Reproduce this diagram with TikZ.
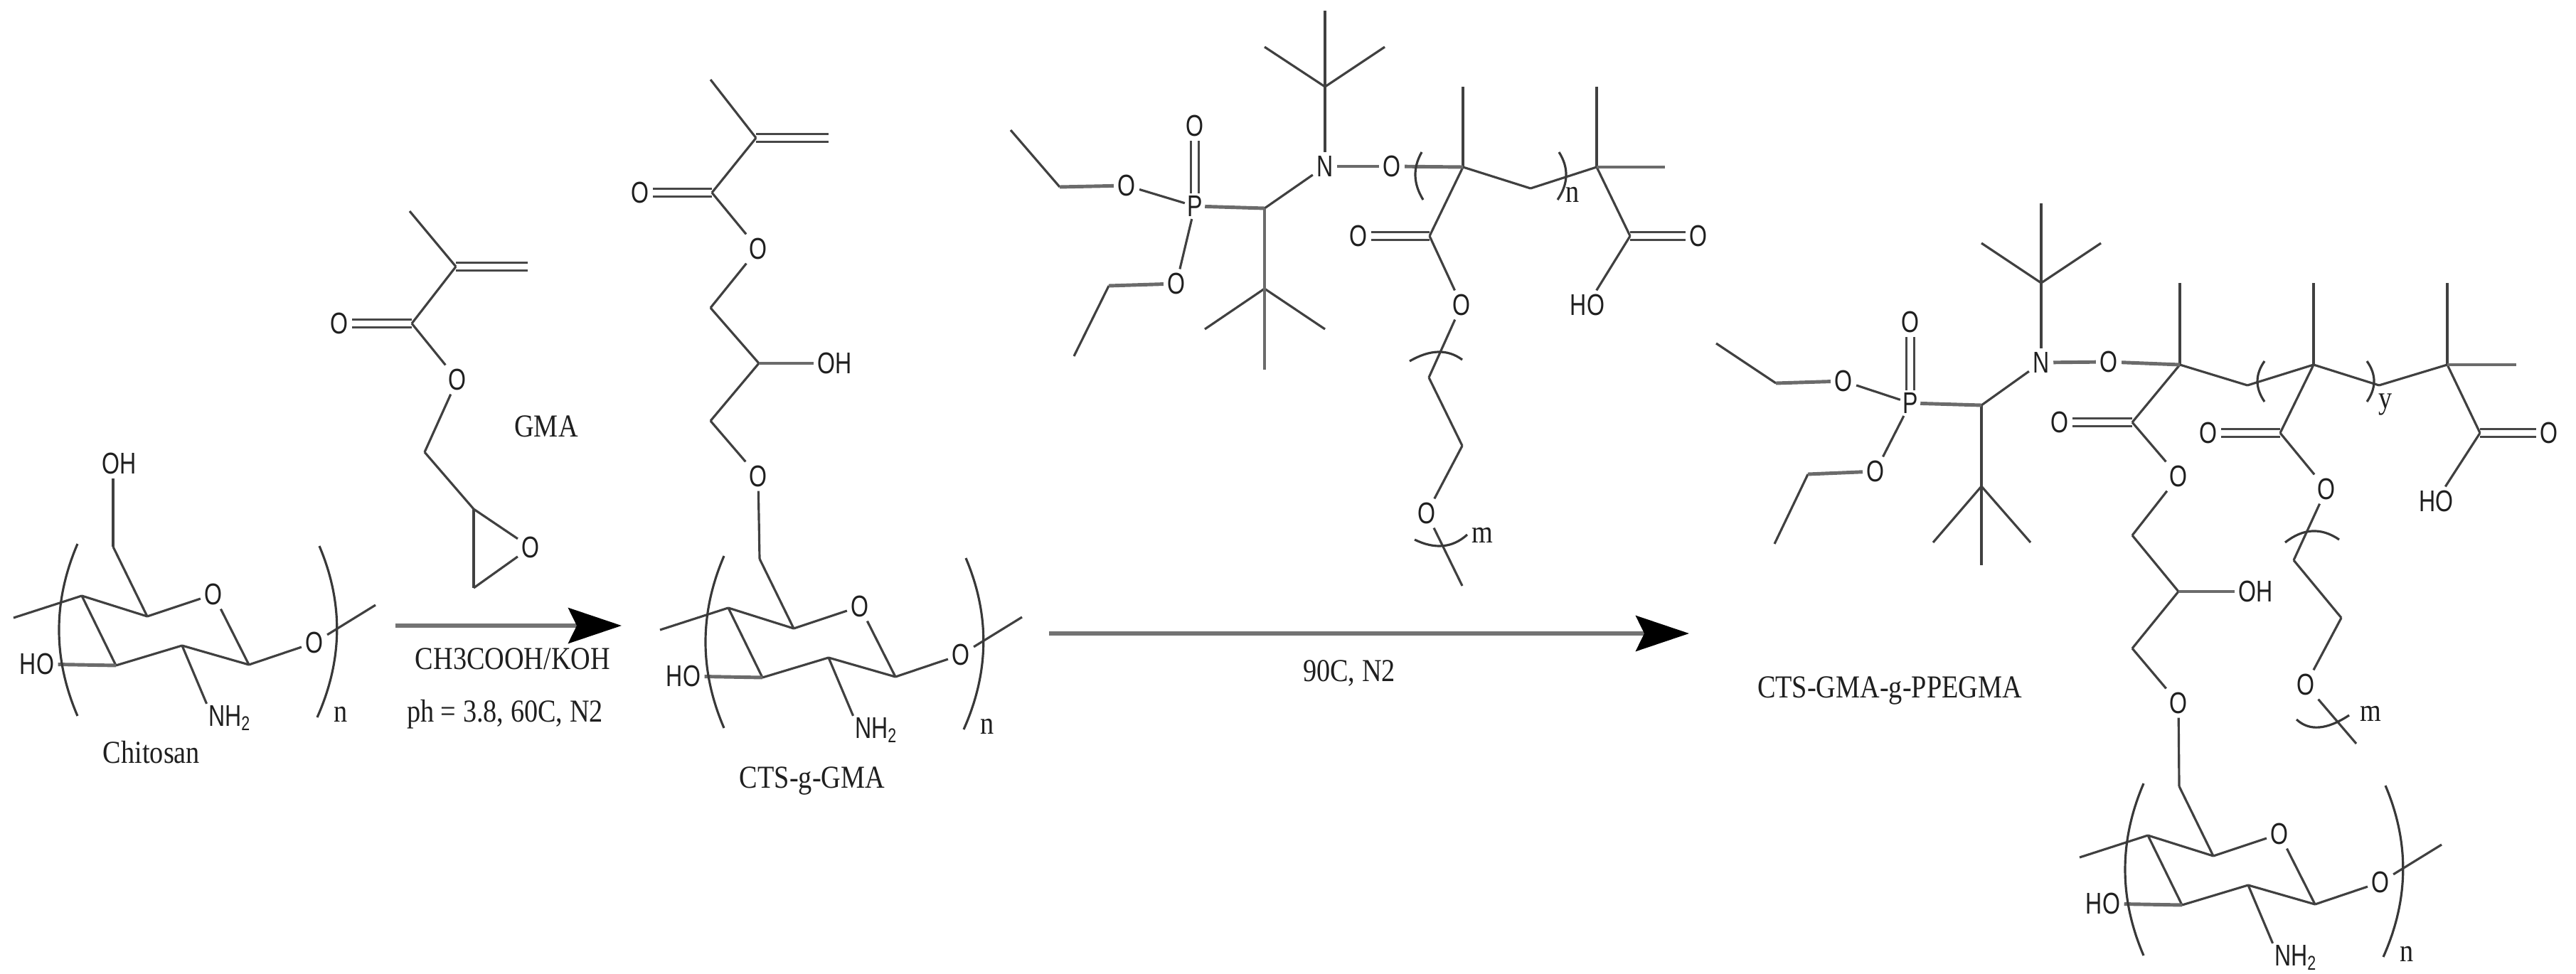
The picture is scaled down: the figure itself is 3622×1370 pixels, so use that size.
\documentclass[tikz,border=0pt]{standalone}
\usepackage{fontspec}
\usetikzlibrary{arrows.meta,calc}
\newfontfamily\atomfam[FakeStretch=0.76]{Liberation Sans}
\newfontfamily\serifam[FakeStretch=0.85]{Liberation Serif}
\tikzset{
  atom/.style={font=\atomfam\fontsize{12}{14}\selectfont,inner sep=1.4pt,text=black!88},
  lab/.style={font=\serifam\fontsize{12.8}{14}\selectfont,inner sep=0pt,text=black!88},
  bond/.style={line width=0.9pt,draw=black!75},
  hbond/.style={line width=1.4pt,draw=black!58},
  dbl/.style={line width=0.95pt,draw=black!72,double=white,double distance=2.2pt},
  brk/.style={line width=0.9pt,draw=black!78},
  rarrow/.style={line width=0.055cm,draw=black!55,-{Stealth[length=0.75cm,width=0.5cm,inset=0.12cm,color=black]}}
}
% parenthesis: quadratic curve from #1 to #3 with control point #2
\newcommand\brkc[3]{\draw[brk] (#1) .. controls ($(#1)!0.667!(#2)$) and ($(#3)!0.667!(#2)$) .. (#3);}
% one chitosan repeat unit; #1 = name prefix, (#2,#3) = shift
\newcommand\chitoUnit[3]{%
\begin{scope}[shift={(#2,#3)}]
  \coordinate (#1tail) at (19,869);
  \coordinate (#1a) at (115,838);
  \coordinate (#1b) at (207,867);
  \node[atom] (#1Or) at (300,836) {O};
  \coordinate (#1c) at (350,935);
  \coordinate (#1d) at (256,908);
  \coordinate (#1e) at (163,936);
  \node[atom] (#1HO) at (52,934) {HO};
  \coordinate (#1ch) at (159,769);
  \node[atom,inner sep=0.5pt] (#1NH) at (323,1010) {NH\textsubscript{2}};
  \node[atom] (#1Ol) at (442,904) {O};
  \coordinate (#1end) at (528,851);
  \foreach \p/\q in {#1tail/#1a,#1a/#1b,#1b/#1Or,#1Or/#1c,#1c/#1d,#1d/#1e,#1e/#1a,#1ch/#1b,#1c/#1Ol,#1Ol/#1end}
    \draw[bond] (\p) -- (\q);
  \draw[bond] (#1d) -- (#1NH.north west);
  \draw[hbond] (#1e) -- (#1HO);
  \brkc{109,765}{57,886}{109,1007}
  \brkc{449,768}{500,888}{446,1009}
  \node[lab] (#1n) at (479,1005) {n};
\end{scope}}
\begin{document}
\begin{tikzpicture}[x=0.01cm,y=-0.01cm]
\useasboundingbox (0,0) rectangle (3622,1370);
\fill[white] (0,0) rectangle (3622,1370);

% ---------- Chitosan
\chitoUnit{a}{0}{0}
\node[atom] (aOH) at (168,652) {OH};
\draw[bond] (ach) -- (aOH.south -| ach);
\node[lab] (lchit) at (213,1058) {Chitosan};

% ---------- GMA
\coordinate (gMe) at (576,297);
\coordinate (gC) at (641,375);
\coordinate (gCH) at (742,375);
\coordinate (gCO) at (579,455);
\node[atom] (gOd) at (477,455) {O};
\node[atom] (gOe) at (643,534) {O};
\coordinate (gCa) at (597,636);
\coordinate (gCb) at (666,716);
\node[atom] (gOx) at (746,770) {O};
\coordinate (gCc) at (666,827);
\draw[dbl] (gC) -- (gCH);
\draw[dbl] (gCO) -- (gOd);
\foreach \p/\q in {gMe/gC,gC/gCO,gCO/gOe,gOe/gCa,gCa/gCb,gCb/gOx,gOx/gCc,gCc/gCb}
  \draw[bond] (\p) -- (\q);
\node[lab] (lgma) at (768,600) {GMA};

% ---------- Arrow 1
\coordinate (r1s) at (556,880);
\coordinate (r1e) at (874,880);
\draw[rarrow] (r1s) -- (r1e);
\node[lab] (l1a) at (721,927) {CH3COOH/KOH};
\node[lab] (l1b) at (710,1005) {ph = 3.8, 60C, N2};

% ---------- CTS-g-GMA
\chitoUnit{b}{909}{17}
\coordinate (bMe) at (999,112);
\coordinate (bC) at (1063,194);
\coordinate (bCH) at (1165,194);
\coordinate (bCO) at (1001,271);
\node[atom] (bOd) at (900,271) {O};
\node[atom] (bOe) at (1066,350) {O};
\coordinate (bCa) at (999,433);
\coordinate (bCb) at (1067,511);
\node[atom] (bOH) at (1174,511) {OH};
\coordinate (bCc) at (999,592);
\node[atom] (bOl) at (1066,670) {O};
\draw[dbl] (bC) -- (bCH);
\draw[dbl] (bCO) -- (bOd);
\foreach \p/\q in {bMe/bC,bC/bCO,bCO/bOe,bOe/bCa,bCa/bCb,bCb/bCc,bCc/bOl,bOl/bch}
  \draw[bond] (\p) -- (\q);
\draw[hbond] (bCb) -- (bOH);
\node[lab] (lcts) at (1142,1098) {CTS-g-GMA};

% ---------- Arrow 2
\coordinate (r2s) at (1475,891);
\coordinate (r2e) at (2375,891);
\draw[rarrow] (r2s) -- (r2e);
\node[lab] (l2) at (1897,947) {90C, N2};

% ---------- Macro-initiator
\coordinate (pT) at (1863,15);
\coordinate (pTc) at (1863,122);
\coordinate (pTl) at (1778,66);
\coordinate (pTr) at (1947,66);
\node[atom] (pN) at (1863,234) {N};
\node[atom] (pO) at (1957,234) {O};
\coordinate (pC1) at (2057,235);
\coordinate (pC1t) at (2057,122);
\coordinate (pM) at (2152,265);
\coordinate (pC3) at (2245,235);
\coordinate (pC3t) at (2245,122);
\coordinate (pC3r) at (2341,235);
\node[atom,inner sep=0.8pt] (pP) at (1680,290) {P};
\node[atom] (pPO) at (1680,177) {O};
\node[atom] (pOa) at (1584,261) {O};
\coordinate (pEa) at (1490,263);
\coordinate (pMa) at (1421,183);
\node[atom] (pOb) at (1654,399) {O};
\coordinate (pEb) at (1559,402);
\coordinate (pMb) at (1510,501);
\coordinate (pCH) at (1778,293);
\coordinate (pQ) at (1778,406);
\coordinate (pQl) at (1694,463);
\coordinate (pQr) at (1863,463);
\coordinate (pQd) at (1778,520);
\coordinate (pCO) at (2010,332);
\node[atom] (pOd) at (1910,332) {O};
\node[atom] (pOe) at (2055,429) {O};
\coordinate (pE1) at (2009,531);
\coordinate (pE2) at (2056,627);
\node[atom] (pOm) at (2006,722) {O};
\coordinate (pEnd) at (2056,824);
\coordinate (pCOb) at (2292,332);
\node[atom] (pOc) at (2388,332) {O};
\node[atom] (pHO) at (2232,429) {HO};
\draw[dbl] (pP) -- (pPO);
\draw[dbl] (pCO) -- (pOd);
\draw[dbl] (pCOb) -- (pOc);
\foreach \p/\q in {pMa/pEa,pOa/pP,pP/pOb,pOb/pEb,pEb/pMb,pCH/pN,pN/pTc,pTc/pT,pTc/pTl,pTc/pTr,pQ/pQl,pQ/pQr,pC1/pC1t,pC1/pM,pM/pC3,pC3/pC3t,pC1/pCO,pCO/pOe,pOe/pE1,pE1/pE2,pE2/pOm,pOm/pEnd,pC3/pCOb,pCOb/pHO}
  \draw[bond] (\p) -- (\q);
\foreach \p/\q in {pEa/pOa,pEb/pOb,pP/pCH,pCH/pQ,pQ/pQd,pN/pO,pO/pC1,pC3/pC3r}
  \draw[hbond] (\p) -- (\q);
\brkc{1999,214}{1980,247}{2001,281}
\brkc{2192,214}{2213,247}{2190,281}
\brkc{1982,508}{2025,483}{2056,506}
\brkc{1989,759}{2032,780}{2063,752}
\node[lab] (pn) at (2211,274) {n};
\node[lab] (pm) at (2084,753) {m};

% ---------- Product
\chitoUnit{c}{2905}{337}
\coordinate (fT) at (2870,286);
\coordinate (fTc) at (2870,398);
\coordinate (fTl) at (2786,342);
\coordinate (fTr) at (2954,342);
\node[atom] (fN) at (2870,510) {N};
\node[atom] (fO) at (2965,509) {O};
\coordinate (fC1) at (3065,513);
\coordinate (fC1t) at (3065,398);
\coordinate (fMa) at (3160,542);
\coordinate (fC2) at (3253,513);
\coordinate (fC2t) at (3253,398);
\coordinate (fMb) at (3345,542);
\coordinate (fC3) at (3441,513);
\coordinate (fC3t) at (3441,398);
\coordinate (fC3r) at (3538,513);
\node[atom,inner sep=0.8pt] (fP) at (2686,567) {P};
\node[atom] (fPO) at (2686,453) {O};
\node[atom] (fOa) at (2592,536) {O};
\coordinate (fEa) at (2497,539);
\coordinate (fMea) at (2413,483);
\node[atom] (fOb) at (2637,663) {O};
\coordinate (fEb) at (2542,667);
\coordinate (fMeb) at (2495,765);
\coordinate (fCH) at (2786,570);
\coordinate (fQ) at (2786,684);
\coordinate (fQl) at (2718,763);
\coordinate (fQr) at (2855,763);
\coordinate (fQd) at (2786,795);
\coordinate (fCOa) at (2998,594);
\node[atom] (fOda) at (2896,594) {O};
\node[atom] (fOe1) at (3063,670) {O};
\coordinate (fG1) at (2998,753);
\coordinate (fG2) at (3063,832);
\node[atom] (fOH) at (3172,832) {OH};
\coordinate (fG3) at (2998,912);
\node[atom] (fOl) at (3063,989) {O};
\coordinate (fCOb) at (3206,609);
\node[atom] (fOdb) at (3105,609) {O};
\node[atom] (fOe2) at (3271,688) {O};
\coordinate (fE1) at (3225,788);
\coordinate (fE2) at (3292,869);
\node[atom] (fOm) at (3242,963) {O};
\coordinate (fEnd) at (3313,1046);
\coordinate (fCOc) at (3487,609);
\node[atom] (fOdc) at (3584,609) {O};
\node[atom] (fHO) at (3425,705) {HO};
\draw[dbl] (fP) -- (fPO);
\draw[dbl] (fCOa) -- (fOda);
\draw[dbl] (fCOb) -- (fOdb);
\draw[dbl] (fCOc) -- (fOdc);
\foreach \p/\q in {fMea/fEa,fOa/fP,fP/fOb,fOb/fEb,fEb/fMeb,fCH/fN,fN/fTc,fTc/fT,fTc/fTl,fTc/fTr,fCH/fQ,fQ/fQl,fQ/fQr,fQ/fQd,fC1/fC1t,fC1/fMa,fMa/fC2,fC2/fC2t,fC2/fMb,fMb/fC3,fC3/fC3t,fC1/fCOa,fCOa/fOe1,fOe1/fG1,fG1/fG2,fG2/fG3,fG3/fOl,fOl/cch,fC2/fCOb,fCOb/fOe2,fOe2/fE1,fE1/fE2,fE2/fOm,fOm/fEnd,fC3/fCOc,fCOc/fHO}
  \draw[bond] (\p) -- (\q);
\foreach \p/\q in {fEa/fOa,fEb/fOb,fP/fCH,fN/fO,fO/fC1,fG2/fOH,fC3/fC3r}
  \draw[hbond] (\p) -- (\q);
\brkc{3184,508}{3164,536}{3184,565}
\brkc{3328,508}{3348,536}{3328,565}
\brkc{3213,763}{3251,733}{3289,759}
\brkc{3229,1012}{3256,1037}{3303,1006}
\node[lab] (fy) at (3354,569) {y};
\node[lab] (fm) at (3333,1004) {m};
\node[lab] (lprod) at (2657,971) {CTS-GMA-g-PPEGMA};
\end{tikzpicture}
\end{document}
